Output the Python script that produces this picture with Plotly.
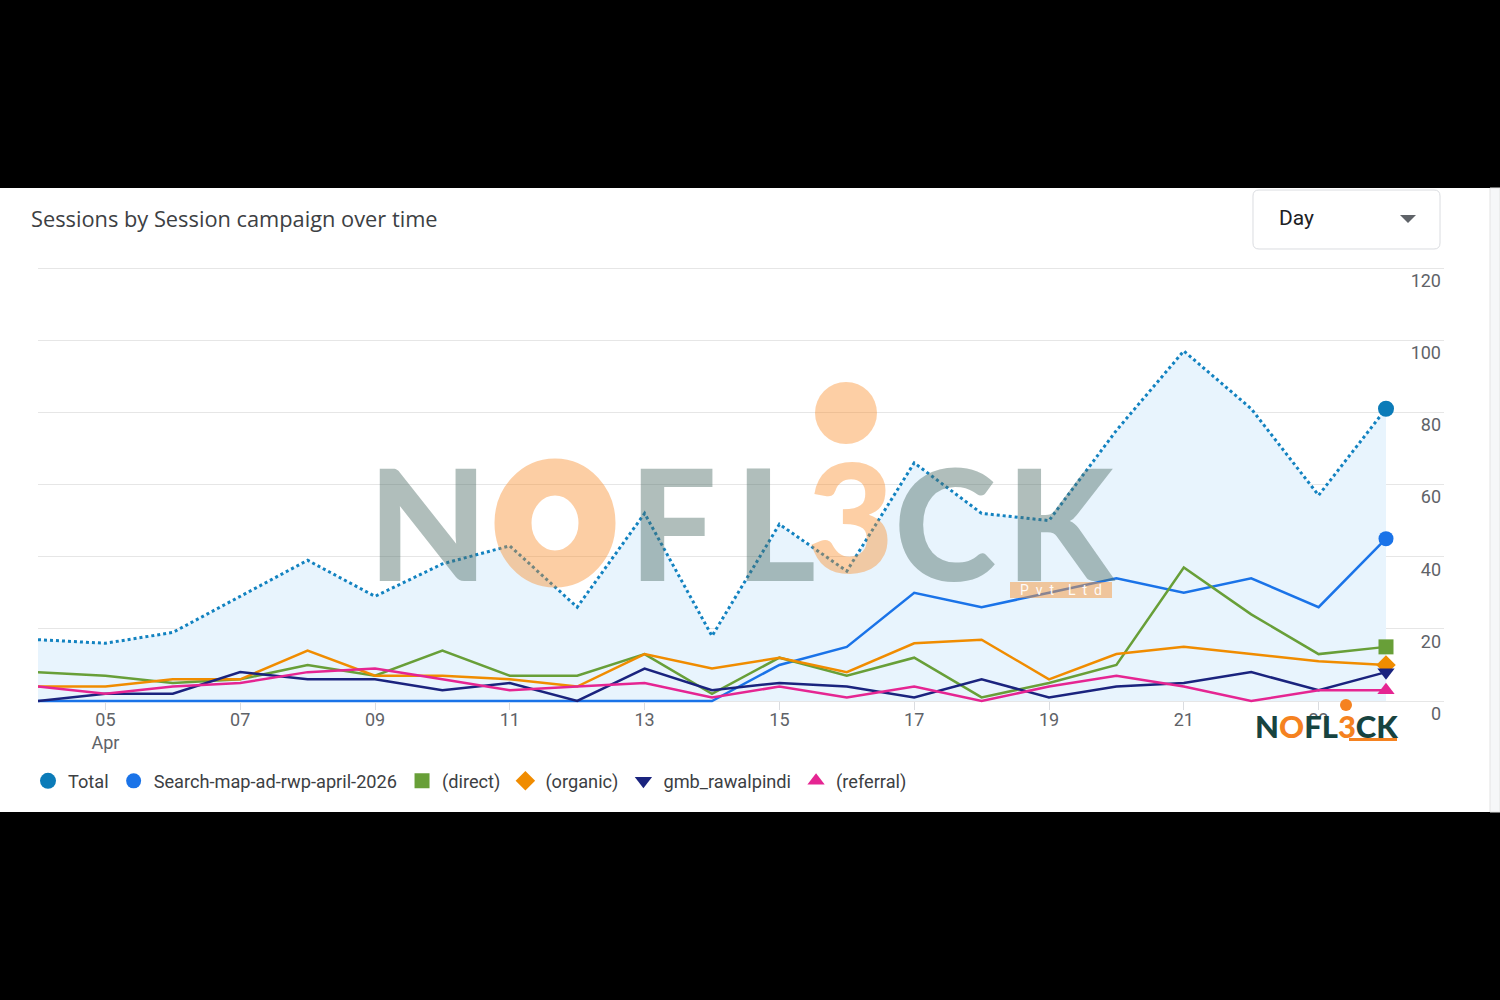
import plotly.graph_objects as go
import pandas as pd

# ---------------- data ----------------
dates = pd.date_range("2026-04-04", "2026-04-24").strftime("%Y-%m-%d").tolist()

total = [17, 16, 19, 29, 39, 29, 38, 43, 26, 52, 18, 49, 36, 66, 52, 50, 75, 97, 81, 57, 81]
search_map = [0, 0, 0, 0, 0, 0, 0, 0, 0, 0, 0, 10, 15, 30, 26, 30, 34, 30, 34, 26, 45]
direct = [8, 7, 5, 6, 10, 7, 14, 7, 7, 13, 2, 12, 7, 12, 1, 5, 10, 37, 24, 13, 15]
organic = [4, 4, 6, 6, 14, 7, 7, 6, 4, 13, 9, 12, 8, 16, 17, 6, 13, 15, 13, 11, 10]
gmb = [0, 2, 2, 8, 6, 6, 3, 5, 0, 9, 3, 5, 4, 1, 6, 1, 4, 5, 8, 3, 8]
referral = [4, 2, 4, 5, 8, 9, 6, 3, 4, 5, 1, 4, 1, 4, 0, 4, 7, 4, 0, 3, 3]

series_names = ["Total", "Search-map-ad-rwp-april-2026", "(direct)", "(organic)",
                "gmb_rawalpindi", "(referral)"]

tick_dates = ["2026-04-05", "2026-04-07", "2026-04-09", "2026-04-11", "2026-04-13",
              "2026-04-15", "2026-04-17", "2026-04-19", "2026-04-21", "2026-04-23"]
tick_labels = ["05<br>Apr", "07", "09", "11", "13", "15", "17", "19", "21", "23"]
y_ticks = [0, 20, 40, 60, 80, 100, 120]

# ---------------- geometry ----------------
W, H = 1500, 1000
L, R, T, B = 38, 1444, 264, 723     # plot area in pixels
Y0_PX, Y120_PX = 701, 268           # pixel rows of value 0 and 120
UPP = 120 / (Y0_PX - Y120_PX)       # value units per pixel
y_lo = -(B - Y0_PX) * UPP
y_hi = 120 + (Y120_PX - T) * UPP


def px_x(p):
    return (p - L) / (R - L)


def px_y(p):
    return (B - p) / (B - T)


FONT = "Roboto"
LOGO_FONT = "Lato"
C_TOTAL = "#0b7bb8"
C_SEARCH = "#1a73e8"
C_DIRECT = "#689f38"
C_ORGANIC = "#f08c00"
C_GMB = "#1a237e"
C_REF = "#e52592"

fig = go.Figure()

fig.add_trace(go.Scatter(x=dates, y=total, mode="lines", name="Total",
                         line=dict(color="#1282c0", width=3, dash="dot"),
                         fill="tozeroy", fillcolor="#e8f4fd", showlegend=False,
                         hoverinfo="skip"))

line_series = [
    (series_names[1], search_map, C_SEARCH),
    (series_names[2], direct, C_DIRECT),
    (series_names[3], organic, C_ORGANIC),
    (series_names[4], gmb, C_GMB),
    (series_names[5], referral, C_REF),
]
for name, vals, col in line_series:
    fig.add_trace(go.Scatter(x=dates, y=vals, mode="lines", name=name,
                             line=dict(color=col, width=2.5), showlegend=False,
                             hoverinfo="skip"))

end_markers = [
    (series_names[0], total, C_TOTAL, "circle", 16),
    (series_names[1], search_map, C_SEARCH, "circle", 15),
    (series_names[2], direct, C_DIRECT, "square", 15),
    (series_names[3], organic, C_ORGANIC, "diamond", 15),
    (series_names[4], gmb, C_GMB, "triangle-down", 15),
    (series_names[5], referral, C_REF, "triangle-up", 15),
]
for name, vals, col, sym, sz in end_markers:
    fig.add_trace(go.Scatter(x=[dates[-1]], y=[vals[-1]], mode="markers", name=name,
                             marker=dict(color=col, symbol=sym, size=sz, line=dict(width=0)),
                             showlegend=True, hoverinfo="skip"))

x_start = pd.Timestamp(dates[0])
x_end = x_start + pd.Timedelta(days=20 * (R - L) / (1386 - L))

shapes = []
annotations = []


def P(x, y):
    return f"{px_x(x):.5f},{px_y(y):.5f}"


# black bands top/bottom
shapes.append(dict(type="rect", xref="paper", yref="paper", x0=px_x(0), x1=px_x(W),
                   y0=px_y(188), y1=px_y(0), fillcolor="black", line=dict(width=0), layer="above"))
shapes.append(dict(type="rect", xref="paper", yref="paper", x0=px_x(0), x1=px_x(W),
                   y0=px_y(1000), y1=px_y(812), fillcolor="black", line=dict(width=0), layer="above"))
# right strip
shapes.append(dict(type="rect", xref="paper", yref="paper", x0=px_x(1490), x1=px_x(1500),
                   y0=px_y(812), y1=px_y(188), fillcolor="#f6f7f8",
                   line=dict(width=1, color="#e3e3e3"), layer="above"))
# small gap in gridlines where the series end
shapes.append(dict(type="rect", xref="paper", yref="paper", x0=px_x(1387), x1=px_x(1392),
                   y0=px_y(703), y1=px_y(265), fillcolor="white", line=dict(width=0),
                   layer="between"))

# Day dropdown box
bx0, bx1, by0, by1, r = 1253, 1440, 190, 249, 6
path = (f"M {P(bx0 + r, by0)} L {P(bx1 - r, by0)} Q {P(bx1, by0)} {P(bx1, by0 + r)} "
        f"L {P(bx1, by1 - r)} Q {P(bx1, by1)} {P(bx1 - r, by1)} "
        f"L {P(bx0 + r, by1)} Q {P(bx0, by1)} {P(bx0, by1 - r)} "
        f"L {P(bx0, by0 + r)} Q {P(bx0, by0)} {P(bx0 + r, by0)} Z")
shapes.append(dict(type="path", xref="paper", yref="paper", path=path,
                   fillcolor="white", line=dict(color="#dadce0", width=1), layer="above"))
tri = f"M {P(1400, 215)} L {P(1416, 215)} L {P(1408, 223)} Z"
shapes.append(dict(type="path", xref="paper", yref="paper", path=tri,
                   fillcolor="#5f6368", line=dict(width=0), layer="above"))
annotations.append(dict(text="Day", x=px_x(1277), y=px_y(218), xref="paper", yref="paper",
                        xanchor="left", yanchor="middle", showarrow=False,
                        font=dict(family=FONT, size=21, color="#202124")))

# Title
annotations.append(dict(text="Sessions by Session campaign over time", x=px_x(29), y=px_y(219),
                        xref="paper", yref="paper", xanchor="left", yanchor="middle",
                        showarrow=False, font=dict(family="Open Sans", size=21.8, color="#3c4043")))

# ---------- big watermark ----------
WM_GRAY = "rgba(80,110,105,0.45)"
WM_OR = "rgba(250,140,40,0.42)"
for ch, cx in [("N", 428), ("F", 673), ("L", 775), ("C", 945), ("K", 1061)]:
    annotations.append(dict(text=ch, x=px_x(cx), y=px_y(521), xref="paper", yref="paper",
                            xanchor="center", yanchor="middle", showarrow=False,
                            font=dict(family=LOGO_FONT, size=155, color=WM_GRAY, weight=900)))
annotations.append(dict(text="3", x=px_x(850), y=px_y(515), xref="paper", yref="paper",
                        xanchor="center", yanchor="middle", showarrow=False,
                        font=dict(family=LOGO_FONT, size=150, color=WM_OR, weight=900)))
shapes.append(dict(type="circle", xref="paper", yref="paper",
                   x0=px_x(555 - 42), x1=px_x(555 + 42), y0=px_y(523 + 46), y1=px_y(523 - 46),
                   line=dict(color="rgb(250,140,40)", width=37), fillcolor="rgba(0,0,0,0)",
                   opacity=0.42, layer="above"))
shapes.append(dict(type="circle", xref="paper", yref="paper",
                   x0=px_x(815), x1=px_x(877), y0=px_y(444), y1=px_y(382),
                   line=dict(width=0), fillcolor="rgb(250,140,40)", opacity=0.42, layer="above"))
shapes.append(dict(type="rect", xref="paper", yref="paper",
                   x0=px_x(1010), x1=px_x(1112), y0=px_y(598), y1=px_y(582),
                   line=dict(width=0), fillcolor="rgb(245,150,60)", opacity=0.5, layer="above"))
annotations.append(dict(text="P  v  t    L  t  d", x=px_x(1061), y=px_y(590), xref="paper",
                        yref="paper", xanchor="center", yanchor="middle", showarrow=False,
                        font=dict(family=FONT, size=14, color="rgba(255,255,255,0.95)")))

# ---------- small logo ----------
shapes.append(dict(type="rect", xref="paper", yref="paper",
                   x0=px_x(1250), x1=px_x(1402), y0=px_y(745), y1=px_y(716),
                   line=dict(width=0), fillcolor="white", layer="above"))
annotations.append(dict(
    text="N<span style='color:#f58220'>O</span>FL<span style='color:#f58220'>3</span>CK",
    x=px_x(1326), y=px_y(726), xref="paper", yref="paper", xanchor="center", yanchor="middle",
    showarrow=False, font=dict(family=LOGO_FONT, size=31, color="#17433f", weight=900)))
shapes.append(dict(type="circle", xref="paper", yref="paper",
                   x0=px_x(1340), x1=px_x(1352), y0=px_y(711), y1=px_y(699),
                   line=dict(width=0), fillcolor="#f58220", layer="above"))
shapes.append(dict(type="rect", xref="paper", yref="paper",
                   x0=px_x(1349), x1=px_x(1397), y0=px_y(741), y1=px_y(738),
                   line=dict(width=0), fillcolor="#f58220", layer="above"))

fig.update_layout(
    width=W, height=H,
    margin=dict(l=L, r=W - R, t=T, b=H - B, pad=0),
    paper_bgcolor="white", plot_bgcolor="white",
    font=dict(family=FONT, color="#3c4043"),
    showlegend=True,
    legend=dict(orientation="h", x=px_x(28), y=px_y(781), xanchor="left", yanchor="middle",
                font=dict(family=FONT, size=18.2, color="#3c4043"), bgcolor="rgba(0,0,0,0)",
                itemclick=False, itemdoubleclick=False),
    xaxis=dict(type="date", range=[x_start, x_end], tickvals=tick_dates, ticktext=tick_labels,
               anchor="free", position=px_y(Y0_PX),
               showgrid=False, zeroline=False, showline=False, ticks="outside", ticklen=8,
               tickcolor="#dadce0", tickwidth=1, ticklabelstandoff=-6,
               tickfont=dict(family=FONT, size=18, color="#5f6368")),
    yaxis=dict(range=[y_lo, y_hi], tickvals=y_ticks, side="right", ticklabelposition="inside bottom",
               ticklabeloverflow="allow",
               showgrid=True, gridcolor="#e6e6e6", gridwidth=1, zeroline=False, showline=False,
               ticks="", tickfont=dict(family=FONT, size=18, color="#5f6368")),
    shapes=shapes,
    annotations=annotations,
    hovermode=False,
)

fig.write_html("out.html")
